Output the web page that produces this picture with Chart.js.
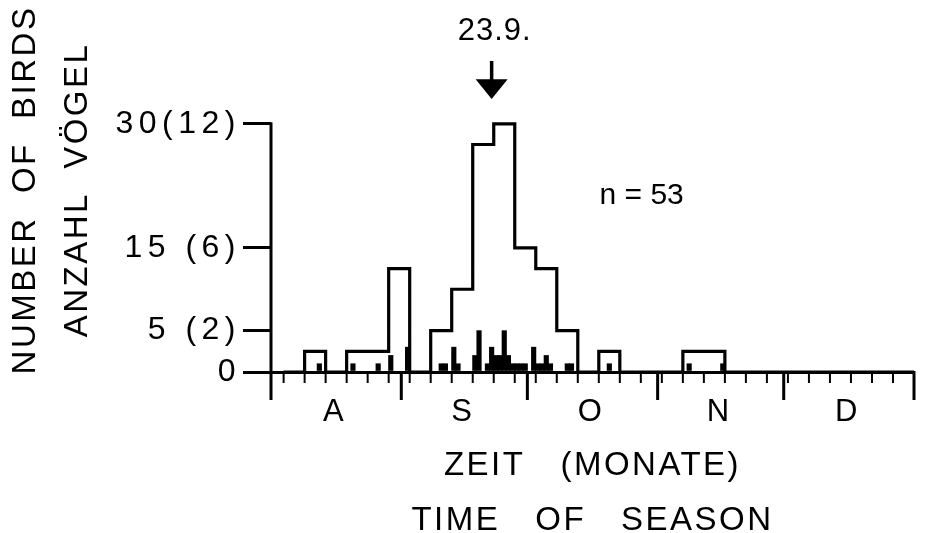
<!DOCTYPE html>
<html><head><meta charset="utf-8">
<script src="https://cdn.jsdelivr.net/npm/chart.js@4.4.1/dist/chart.umd.min.js"></script>
<style>html,body{margin:0;padding:0;background:#fff;} canvas{display:block;}</style>
</head><body>
<canvas id="c" width="926" height="533"></canvas>
<script>
// x values are days counted from the start of 1 August
const monthLabels = ['A', 'S', 'O', 'N', 'D'];
const monthStartDays = [0, 31, 61, 92, 122, 153];
// pentad bins (start day of each 5-day period)
const pentadStartDays = [3, 8, 13, 18, 23, 28, 33, 38, 43, 48, 53, 58, 63, 68, 73, 78, 83, 88, 93, 98, 103, 108, 113, 118, 123, 128, 133, 138, 143, 148];
// birds per pentad (read on the bracketed scale 0..12)
const pentadBirds = [0, 1, 0, 1, 1, 5, 0, 2, 4, 11, 12, 6, 5, 2, 0, 1, 0, 0, 0, 1, 1, 0, 0, 0, 0, 0, 0, 0, 0, 0];
// daily catches (black bars)
const dailyDays = [11, 19, 25, 28, 32, 40, 41, 43, 44, 48, 49, 51, 52, 53, 54, 55, 56, 57, 58, 59, 60, 62, 63, 64, 65, 66, 70, 71, 80, 99, 107];
const dailyBirds = [1, 1, 1, 2, 3, 1, 1, 3, 1, 2, 5, 1, 3, 2, 2, 5, 2, 1, 1, 1, 1, 3, 1, 1, 2, 1, 1, 1, 1, 1, 1];
const yTickValues = [0, 5, 15, 30];
const yTickLabels = ['0', '5 (2)', '15 (6)', '30(12)'];
const bracketTop = 12;          // bracketed value matching the top tick (30)
const meanDate = '23.9.';
const meanDay = 52.5;
const sampleLabel = 'n = 53';

const Y_MAX = 44;
const FONT = "'Liberation Sans', Arial, Helvetica, sans-serif";

// letter spacing: titles are drawn before the datasets, tick labels (z:1) after
const spacingPlugin = {
  id: 'spacing',
  beforeDraw(chart) { chart.ctx.letterSpacing = '2.5px'; },
  afterDatasetsDraw(chart) { chart.ctx.letterSpacing = '5.5px'; }
};

const marksPlugin = {
  id: 'marks',
  afterDraw(chart) {
    const { ctx, scales: { x, y } } = chart;
    const y0 = y.getPixelForValue(0);
    ctx.save();
    ctx.letterSpacing = '0px';
    ctx.strokeStyle = '#000';
    ctx.fillStyle = '#000';
    ctx.lineCap = 'butt';
    // y axis line (0 .. 30)
    const xl = x.getPixelForValue(monthStartDays[0]);
    ctx.lineWidth = 3;
    ctx.beginPath();
    ctx.moveTo(xl, y.getPixelForValue(yTickValues[yTickValues.length - 1]) - 1.5);
    ctx.lineTo(xl, y0);
    ctx.stroke();
    // pentad ticks
    ctx.lineWidth = 2;
    pentadStartDays.concat([monthStartDays[monthStartDays.length - 1]]).forEach(d => {
      const px = x.getPixelForValue(d);
      ctx.beginPath(); ctx.moveTo(px, y0); ctx.lineTo(px, y0 + 11); ctx.stroke();
    });
    // month boundary ticks
    ctx.lineWidth = 3;
    monthStartDays.forEach(d => {
      const px = x.getPixelForValue(d);
      ctx.beginPath(); ctx.moveTo(px, y0 - 1); ctx.lineTo(px, y0 + 28); ctx.stroke();
    });
    // arrow for mean date
    const ax = x.getPixelForValue(meanDay);
    const tipY = y.getPixelForValue(33.0);
    const baseY = y.getPixelForValue(35.4);
    const topY = y.getPixelForValue(37.6);
    ctx.lineWidth = 3.5;
    ctx.beginPath(); ctx.moveTo(ax, topY); ctx.lineTo(ax, baseY + 2); ctx.stroke();
    ctx.beginPath();
    ctx.moveTo(ax - 16, baseY); ctx.lineTo(ax + 16, baseY); ctx.lineTo(ax, tipY); ctx.closePath();
    ctx.fill();
    ctx.textAlign = 'center';
    ctx.textBaseline = 'middle';
    ctx.letterSpacing = '1px';
    ctx.font = '31px ' + FONT;
    ctx.fillText(meanDate, ax + 3, y.getPixelForValue(41.2));
    ctx.letterSpacing = '0px';
    ctx.font = '30px ' + FONT;
    ctx.fillText(sampleLabel, x.getPixelForValue(88.2), y.getPixelForValue(21.3));
    ctx.restore();
  }
};

const outline = pentadStartDays.map((d, i) => ({ x: d, y: pentadBirds[i] }));
outline.push({ x: monthStartDays[monthStartDays.length - 1], y: 0 });
const daily = dailyDays.map((d, i) => ({ x: d + 0.5, y: dailyBirds[i] }));

new Chart(document.getElementById('c'), {
  type: 'bar',
  data: {
    datasets: [
      {
        type: 'line', data: outline, yAxisID: 'y2', stepped: 'before',
        borderColor: '#000', borderWidth: 3.2, pointRadius: 0, fill: false,
        borderJoinStyle: 'miter', borderCapStyle: 'butt', order: 1
      },
      {
        type: 'bar', data: daily, yAxisID: 'y', backgroundColor: '#000',
        borderWidth: 0, barThickness: 4.5, order: 2
      }
    ]
  },
  options: {
    responsive: false,
    devicePixelRatio: 1,
    animation: false,
    layout: { padding: { top: 8, right: 12, left: 0, bottom: 0 } },
    plugins: { legend: { display: false }, tooltip: { enabled: false } },
    scales: {
      x: {
        type: 'linear', min: monthStartDays[0], max: monthStartDays[monthStartDays.length - 1], offset: false,
        grid: { display: false },
        border: { display: true, color: '#000', width: 3 },
        afterBuildTicks(s) {
          s.ticks = monthLabels.map((_, i) => ({ value: (monthStartDays[i] + monthStartDays[i + 1]) / 2 }));
        },
        ticks: {
          z: 1, autoSkip: false, maxRotation: 0, minRotation: 0, padding: 14, color: '#000',
          font: { family: FONT, size: 31 },
          callback(v, i) { return monthLabels[i]; }
        },
        afterFit(s) { s.height = 161; s.paddingLeft = 0; s.paddingRight = 0; },
        title: {
          display: true, text: ['ZEIT   (MONATE)', 'TIME   OF   SEASON'], color: '#000',
          font: { family: FONT, size: 33, lineHeight: '55px' }, padding: { top: 0, bottom: -15 }
        }
      },
      y: {
        type: 'linear', position: 'left', min: 0, max: Y_MAX,
        afterBuildTicks(s) { s.ticks = yTickValues.map(v => ({ value: v })); },
        ticks: {
          z: 1, autoSkip: false, padding: 2, color: '#000', font: { family: FONT, size: 32 },
          callback(v) { return yTickLabels[yTickValues.indexOf(v)]; }
        },
        grid: { display: true, drawOnChartArea: false, drawTicks: true, tickLength: 28, lineWidth: 3, color: '#000' },
        border: { display: false },
        afterFit(s) { s.width = 271; s.paddingTop = 0; s.paddingBottom = 0; },
        title: {
          display: true, text: ['NUMBER  OF  BIRDS', 'ANZAHL  VÖGEL'], color: '#000',
          font: { family: FONT, size: 33, lineHeight: '52px' }, padding: 0
        }
      },
      y2: { type: 'linear', display: false, min: 0, max: Y_MAX * bracketTop / yTickValues[yTickValues.length - 1] }
    }
  },
  plugins: [spacingPlugin, marksPlugin]
});
</script>
</body></html>
